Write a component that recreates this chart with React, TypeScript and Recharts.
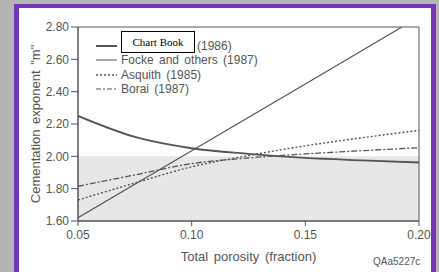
import { LineChart, Line, XAxis, YAxis, ReferenceArea, Label } from 'recharts';

const porosity = [0.05, 0.075, 0.1, 0.125, 0.15, 0.175, 0.2];
const chartBookM = [2.25, 2.12, 2.05, 2.015, 1.99, 1.975, 1.962];
const asquithM = [1.73, 1.835, 1.935, 2.005, 2.065, 2.115, 2.16];
const boraiM = [1.815, 1.885, 1.955, 1.99, 2.015, 2.035, 2.053];
const fockePorosity = [0.05, 0.1, 0.15, 0.1925];
const fockeM = [1.62, 2.034, 2.448, 2.8];

const xTicks = [0.05, 0.1, 0.15, 0.2];
const yTicks = [1.6, 1.8, 2.0, 2.2, 2.4, 2.6, 2.8];

const toRows = (xs: number[], ys: number[]) => xs.map((phi, i) => ({ phi, m: ys[i] }));

const chartBookData = toRows(porosity, chartBookM);
const asquithData = toRows(porosity, asquithM);
const boraiData = toRows(porosity, boraiM);
const fockeData = toRows(fockePorosity, fockeM);

const INK = '#555';
const FONT = '"Liberation Sans", Arial, sans-serif';

const legendRows = [
  { label: '(1986)', width: 2, dash: undefined as string | undefined, indent: 76 },
  { label: 'Focke and others (1987)', width: 1, dash: undefined, indent: 0 },
  { label: 'Asquith (1985)', width: 1.3, dash: '2 2', indent: 0 },
  { label: 'Borai (1987)', width: 1.2, dash: '5 2 2 2', indent: 0 },
];

export default function App() {
  return (
    <div style={{ position: 'fixed', left: 0, top: 0, width: 439, height: 272, background: '#b4b4b4', overflow: 'hidden' }}>
      <div
        style={{
          position: 'absolute', left: 14, top: 4, width: 412, height: 280,
          borderLeft: '5px solid #7636b4', borderRight: '5px solid #7636b4', borderTop: '4px solid #7636b4',
          background: '#fff',
        }}
      />
      <div style={{ position: 'absolute', left: 0, top: 0 }}>
        <LineChart width={439} height={272} margin={{ top: 27, right: 20, left: 0, bottom: 0 }}>
          <ReferenceArea x1={0.05} x2={0.2} y1={1.6} y2={2.0} fill="#e7e7e7" fillOpacity={1} stroke="none" />
          <ReferenceArea x1={0.05} x2={0.2} y1={1.6} y2={2.8} fill="none" stroke={INK} strokeWidth={1} />
          <XAxis
            dataKey="phi"
            type="number"
            domain={[0.05, 0.2]}
            ticks={xTicks}
            tickFormatter={(v: number) => v.toFixed(2)}
            allowDataOverflow
            height={51}
            tickSize={5}
            tickMargin={4}
            stroke={INK}
            tick={{ fill: INK, fontSize: 12, fontFamily: FONT }}
          >
            <Label
              content={({ viewBox }: any) => (
                <text x={viewBox.x + viewBox.width / 2} y={viewBox.y + 40} textAnchor="middle" fill={INK} fontSize={13} fontFamily={FONT} wordSpacing={2}>
                  Total porosity (fraction)
                </text>
              )}
            />
          </XAxis>
          <YAxis
            type="number"
            domain={[1.6, 2.8]}
            ticks={yTicks}
            tickFormatter={(v: number) => v.toFixed(2)}
            allowDataOverflow
            width={78}
            tickSize={7}
            stroke={INK}
            tick={{ fill: INK, fontSize: 12, fontFamily: FONT }}
          >
            <Label
              content={({ viewBox }: any) => {
                const cx = viewBox.x + 40;
                const cy = viewBox.y + viewBox.height / 2;
                return (
                  <text x={cx} y={cy} transform={`rotate(-90 ${cx} ${cy})`} textAnchor="middle" fill={INK} fontSize={13} fontFamily={FONT} wordSpacing={2}>
                    Cementation exponent "m"
                  </text>
                );
              }}
            />
          </YAxis>
          <Line data={chartBookData} dataKey="m" type="monotone" stroke={INK} strokeWidth={1.8} dot={false} isAnimationActive={false} />
          <Line data={fockeData} dataKey="m" type="linear" stroke={INK} strokeWidth={1.2} dot={false} isAnimationActive={false} />
          <Line data={asquithData} dataKey="m" type="monotone" stroke={INK} strokeWidth={1.4} strokeDasharray="2 2" dot={false} isAnimationActive={false} />
          <Line data={boraiData} dataKey="m" type="monotone" stroke={INK} strokeWidth={1.3} strokeDasharray="6 2 2 2" dot={false} isAnimationActive={false} />
        </LineChart>
      </div>
      <div style={{ position: 'absolute', left: 96, top: 39, fontFamily: FONT, fontSize: 12, color: INK, wordSpacing: 2 }}>
        {legendRows.map((row, i) => (
          <div key={i} style={{ height: 14.3, display: 'flex', alignItems: 'center', whiteSpace: 'nowrap' }}>
            <svg width={22} height={14} style={{ marginRight: 3 }}>
              <line x1={0} y1={7} x2={21} y2={7} stroke={INK} strokeWidth={row.width} strokeDasharray={row.dash} />
            </svg>
            <span style={{ marginLeft: row.indent }}>{row.label}</span>
          </div>
        ))}
      </div>
      <div
        style={{
          position: 'absolute', left: 121, top: 31, width: 74, height: 22, boxSizing: 'border-box',
          border: '1px solid #000', background: '#fff', color: '#000', fontFamily: '"Liberation Serif", serif',
          fontSize: 11, lineHeight: '20px', textAlign: 'center',
        }}
      >
        Chart Book
      </div>
      <div style={{ position: 'absolute', left: 373, top: 256, fontFamily: FONT, fontSize: 10, color: INK }}>QAa5227c</div>
    </div>
  );
}
